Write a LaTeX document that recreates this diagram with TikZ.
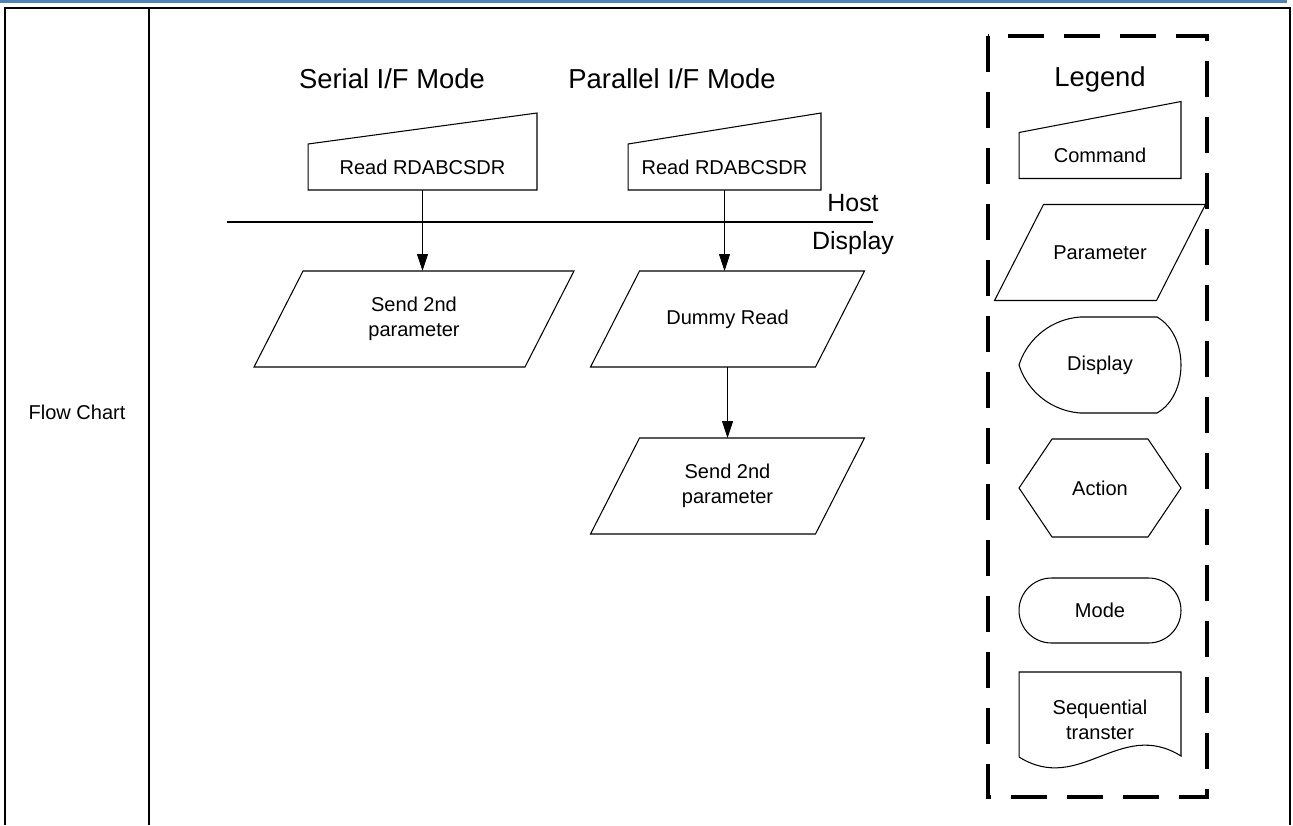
\documentclass[tikz,border=0pt]{standalone}
\usepackage{fontspec}
\setmainfont{Liberation Sans}
\usetikzlibrary{positioning, arrows.meta}

\definecolor{headblue}{RGB}{79,129,189}

\begin{document}
\begin{tikzpicture}[x=0.02cm, y=-0.02cm,
    frame/.style={line width=1.4pt},
    outline/.style={line width=0.6pt},
    title/.style={font=\fontsize{15.6}{19}\selectfont, inner sep=0pt, anchor=base},
    lbl/.style={font=\fontsize{11.4}{14}\selectfont, align=center, inner sep=0pt, outer sep=0pt},
    cmdbox/.style={lbl, minimum height=0.92cm},
    parbox/.style={lbl, minimum height=1.92cm},
    arrow/.style={-{Triangle[length=0.34cm, width=0.22cm]}, line width=0.6pt},
    legbox/.style={line width=2.3pt, dash pattern=on 0.72cm off 0.4cm}
]
\useasboundingbox (0,0) rectangle (1293,825);

% header band and table
\fill[headblue] (0,0) rectangle (1287,2.5);
\draw[frame] (5,825) -- (5,8) -- (1290,8) -- (1290,825);
\draw[frame] (149,8) -- (149,825);
\node[lbl] (chart) at (77,412) {Flow Chart};

% flow
\node[title] (stitle) at (392,88) {Serial I/F Mode};
\node[title] (ptitle) at (672,88) {Parallel I/F Mode};
\node[cmdbox, minimum width=4.58cm] (scmd) at (422.5,167) {Read RDABCSDR};
\node[cmdbox, minimum width=3.86cm] (pcmd) at (724.5,167) {Read RDABCSDR};
\node[parbox, minimum width=5.42cm] (sparam) at (414,319) {Send 2nd\\parameter};
\node[parbox, minimum width=4.5cm] (dummy) at (727.5,319) {Dummy Read};
\node[parbox, minimum width=4.5cm] (psend) at (727.5,486) {Send 2nd\\parameter};

% host / display border
\draw[outline] (227,222) coordinate (hl) -- (873,222) coordinate (hr);
\node[font=\fontsize{14.2}{17}\selectfont, inner sep=0pt, anchor=base] (host) at (853,211) {Host};
\node[font=\fontsize{14.2}{17}\selectfont, inner sep=0pt, anchor=base] (side) at (853,249) {Display};

\draw[arrow] (scmd.south) -- (scmd.south |- sparam.north);
\draw[arrow] (pcmd.south) -- (pcmd.south |- dummy.north);
\draw[arrow] (dummy.south) -- (psend.north);

% legend
\draw[legbox] (988,36) rectangle (1207,797);
\node[title] (legend) at (1100,86) {Legend};
\node[cmdbox, minimum width=3.24cm] (lcmd) at (1100,155.5) {Command};
\node[parbox, minimum width=3.24cm] (lparam) at (1100,252.5) {Parameter};
\node[lbl, minimum width=3.24cm, minimum height=1.92cm] (ldisp) at (1100,365) {Display};
\node[lbl, minimum width=3.24cm, minimum height=1.96cm] (lact) at (1100,488) {Action};
\node[lbl, draw, outline, rounded corners=0.65cm, minimum width=3.24cm, minimum height=1.3cm] (lmode) at (1100,610.5) {Mode};
\node[lbl, minimum width=3.24cm, minimum height=1.92cm] (lseq) at (1100,720) {Sequential\\transter};

% symbol outlines
\foreach \n in {scmd, pcmd, lcmd}
  \draw[outline] (\n.south west) -- (\n.north west) -- ([yshift=0.62cm]\n.north east) -- (\n.south east) -- cycle;
\foreach \n in {sparam, dummy, psend, lparam}
  \draw[outline] ([xshift=-0.49cm]\n.south west) -- ([xshift=0.49cm]\n.north west) -- ([xshift=0.49cm]\n.north east) -- ([xshift=-0.49cm]\n.south east) -- cycle;
\draw[outline] ([xshift=1.22cm]ldisp.north west) -- ([xshift=-0.48cm]ldisp.north east)
  .. controls +(0.64cm,-0.36cm) and +(0.64cm,0.36cm) .. ([xshift=-0.48cm]ldisp.south east)
  -- ([xshift=1.22cm]ldisp.south west)
  .. controls +(-0.7cm,0.06cm) and +(0.12cm,-0.4cm) .. (ldisp.west)
  .. controls +(0.12cm,0.4cm) and +(-0.7cm,-0.06cm) .. ([xshift=1.22cm]ldisp.north west) -- cycle;
\draw[outline] ([xshift=0.66cm]lact.north west) -- ([xshift=-0.66cm]lact.north east) -- (lact.east)
  -- ([xshift=-0.66cm]lact.south east) -- ([xshift=0.66cm]lact.south west) -- (lact.west) -- cycle;
\draw[outline] ([yshift=0.22cm]lseq.south west) -- (lseq.north west) -- (lseq.north east) -- ([yshift=0.24cm]lseq.south east)
  .. controls +(-1.22cm,0.76cm) and +(1.22cm,-0.76cm) .. ([yshift=0.22cm]lseq.south west);

\end{tikzpicture}
\end{document}
